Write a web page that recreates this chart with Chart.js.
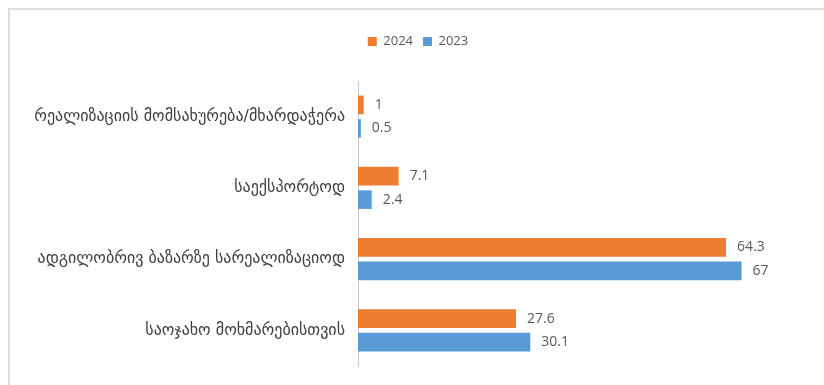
<!DOCTYPE html>
<html>
<head>
<meta charset="utf-8">
<script src="https://cdn.jsdelivr.net/npm/chart.js@4.4.1/dist/chart.umd.min.js"></script>
<style>
  html, body { margin: 0; padding: 0; background: #fff; }
  #wrap { position: relative; width: 824px; height: 385px; }
  #frame {
    position: absolute; left: 8px; top: 8px; right: 0; bottom: 0;
    border-top: 2px solid #dcdcdc; border-left: 2px solid #dcdcdc;
    pointer-events: none;
  }
</style>
</head>
<body>
<div id="wrap">
  <canvas id="chart" width="824" height="385"></canvas>
  <div id="frame"></div>
</div>
<script>
// categories, top to bottom
const categories = [
  'რეალიზაციის მომსახურება/მხარდაჭერა',
  'საექსპორტოდ',
  'ადგილობრივ ბაზარზე სარეალიზაციოდ',
  'საოჯახო მოხმარებისთვის',
];
const seriesNames = ['2024', '2023'];
const values2024  = [1, 7.1, 64.3, 27.6];
const values2023  = [0.5, 2.4, 67, 30.1];

const COLORS = { orange: '#ED7D31', blue: '#5B9BD5', text: '#595959', label: '#404040' };
const FONT = '"DejaVu Sans", "Open Sans", sans-serif';

/* value labels at the end of each bar */
const valueLabels = {
  id: 'valueLabels',
  afterDatasetsDraw(chart) {
    const ctx = chart.ctx;
    ctx.save();
    ctx.font = '14px "Open Sans", sans-serif';
    ctx.fillStyle = COLORS.text;
    ctx.textAlign = 'left';
    ctx.textBaseline = 'middle';
    chart.data.datasets.forEach((ds, i) => {
      chart.getDatasetMeta(i).data.forEach((bar, j) => {
        ctx.fillText(String(ds.data[j]), bar.x + 11, bar.y);
      });
    });
    ctx.restore();
  },
};

/* extra room under the legend */
const legendGap = {
  id: 'legendGap',
  beforeInit(chart) {
    const fit = chart.legend.fit;
    chart.legend.fit = function () {
      fit.bind(chart.legend)();
      this.height += 23;
    };
  },
};

new Chart(document.getElementById('chart'), {
  type: 'bar',
  data: {
    labels: categories,
    datasets: [
      { label: seriesNames[0], data: values2024, backgroundColor: COLORS.orange },
      { label: seriesNames[1], data: values2023, backgroundColor: COLORS.blue },
    ],
  },
  options: {
    indexAxis: 'y',
    responsive: false,
    animation: false,
    barPercentage: 0.79,
    categoryPercentage: 0.66,
    layout: { padding: { top: 25, left: 20, right: 8, bottom: 19 } },
    plugins: {
      legend: {
        display: true,
        position: 'top',
        labels: {
          boxWidth: 9, boxHeight: 9, padding: 10,
          color: COLORS.text,
          font: { family: '"Open Sans", sans-serif', size: 13 },
        },
      },
      tooltip: { enabled: false },
    },
    scales: {
      x: { display: false, min: 0, max: 80 },
      y: {
        grid: { display: false, drawTicks: false },
        border: { display: true, color: '#c8c8c8', width: 1 },
        ticks: {
          padding: 13,
          color: COLORS.label,
          font: { family: FONT, size: 16 },
        },
        afterFit(scale) {
          scale.width = 338;
          scale.paddingTop = 0;
          scale.paddingBottom = 0;
        },
      },
    },
  },
  plugins: [valueLabels, legendGap],
});
</script>
</body>
</html>
